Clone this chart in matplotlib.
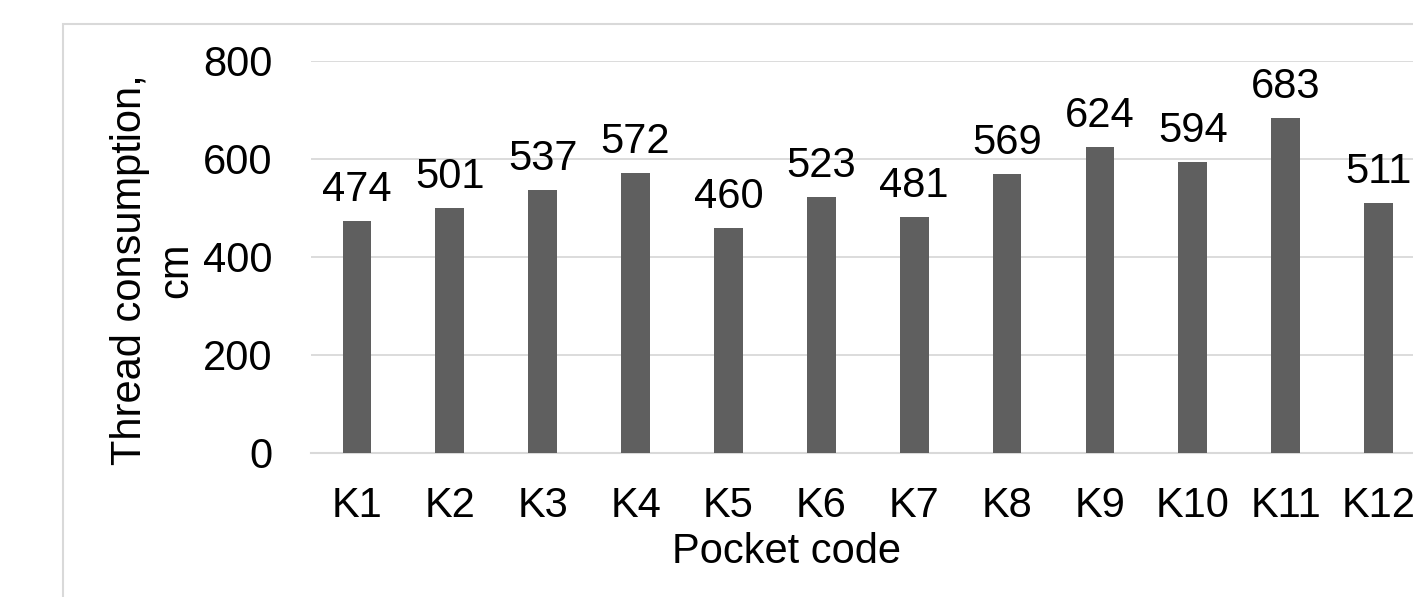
import matplotlib
matplotlib.use("Agg")
import matplotlib.pyplot as plt
from matplotlib.patches import Rectangle

plt.rcParams["font.family"] = ["Liberation Sans", "DejaVu Sans"]

pockets = ["K1", "K2", "K3", "K4", "K5", "K6", "K7", "K8", "K9", "K10", "K11", "K12"]
consumption = [474, 501, 537, 572, 460, 523, 481, 569, 624, 594, 683, 511]
y_ticks = [0, 200, 400, 600, 800]

W, H = 1413, 597
FS = 30
fig = plt.figure(figsize=(W / 100, H / 100), dpi=100)

# chart frame (runs off the right and bottom edge)
fig.patches.append(Rectangle((62.5 / W, -0.1), 1.2, (H - 23.5) / H + 0.1,
                             transform=fig.transFigure, fill=False,
                             edgecolor="#d9d9d9", lw=1.5))

ax = fig.add_axes([310.5 / W, 144 / H, 1114.5 / W, 392 / H])
x = range(len(pockets))
ax.bar(x, consumption, width=0.31, color="#5f5f5f", zorder=3)
for xi, v in zip(x, consumption):
    ax.annotate(str(v), (xi, v), xytext=(0, 14.4), textcoords="offset points",
                ha="center", va="baseline", fontsize=FS)

ax.set_xlim(-0.5, len(pockets) - 0.5)
ax.set_ylim(0, 800)
ax.set_yticks(y_ticks)
ax.set_xticks(list(x))
ax.set_xticklabels(pockets)
ax.tick_params(axis="both", length=0, labelsize=FS)
ax.tick_params(axis="y", pad=27.5)
ax.tick_params(axis="x", pad=24)
ax.grid(axis="y", color="#d9d9d9", lw=1.3, zorder=0)
for side in ["left", "right", "top"]:
    ax.spines[side].set_visible(False)
ax.spines["bottom"].set_color("#d9d9d9")
ax.spines["bottom"].set_linewidth(1.5)

ax.set_ylabel("Thread consumption,\ncm", fontsize=FS)
ax.yaxis.set_label_coords(-0.1027, 0.467)
fig.text(787 / W, (H - 563) / H, "Pocket code", fontsize=FS,
         ha="center", va="baseline")

fig.savefig("out.png", dpi=100)
